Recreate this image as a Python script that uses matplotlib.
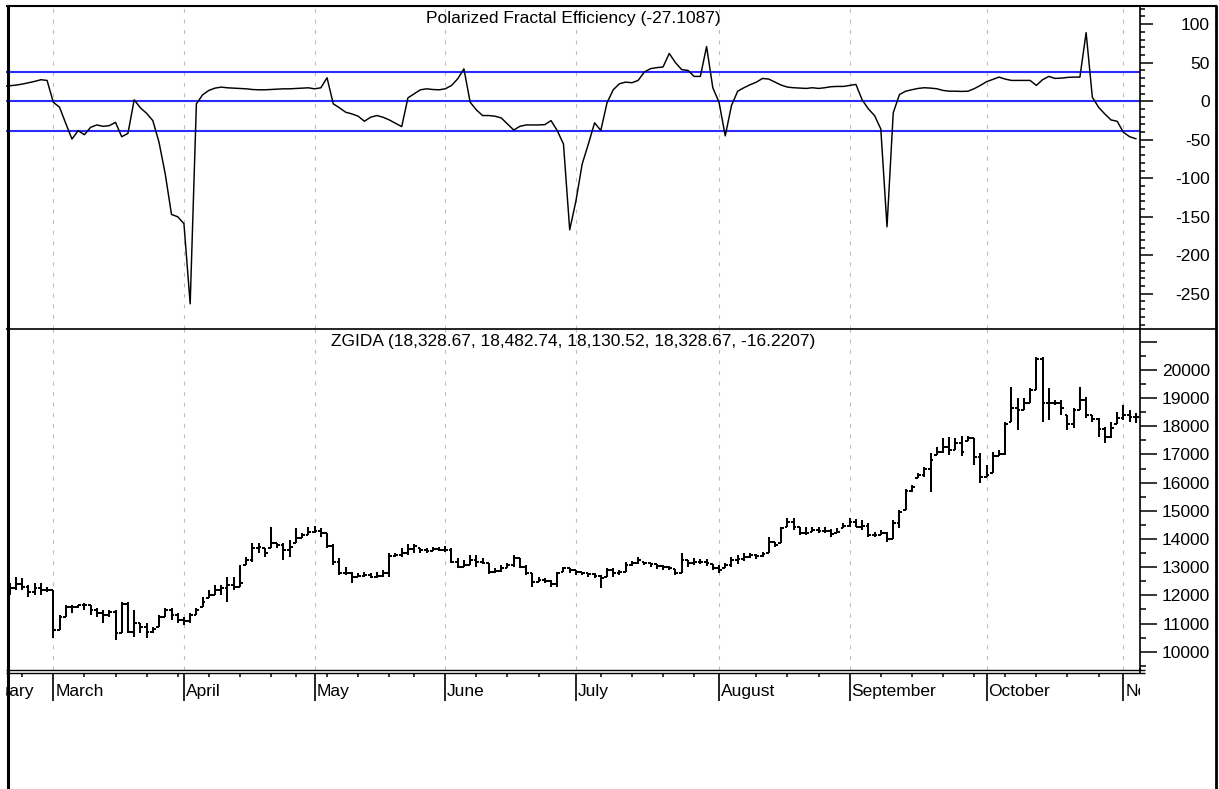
import matplotlib
matplotlib.use('Agg')
import matplotlib.pyplot as plt
import matplotlib.transforms as mtrans
from matplotlib.collections import LineCollection
from matplotlib.lines import Line2D
import numpy as np

plt.rcParams['font.family'] = ['Liberation Sans', 'DejaVu Sans']
plt.rcParams['axes.unicode_minus'] = False

# daily bars (index 0 = last days of February)
opens = [12300, 12250, 12250, 12400, 12300, 12130, 12250, 12200, 12190, 10770,
         11243, 11598, 11598, 11640, 11660, 11480, 11363, 11303, 11420, 10653,
         11700, 10700, 11008, 10888, 10700, 10888, 11243, 11480, 11300, 11125,
         11100, 11303, 11598, 11900, 12013, 12190, 12250, 12368, 12308, 13078,
         13255, 13670, 13670, 13670, 13848, 13780, 13600, 13848, 14026, 14143,
         14260, 14300, 14200, 13750, 13200, 12780, 12780, 12640, 12700, 12720,
         12640, 12700, 12780, 13400, 13433, 13500, 13650, 13670, 13600, 13586,
         13630, 13620, 13620, 13200, 13018, 13078, 13255, 13200, 13138, 12840,
         12850, 12960, 13078, 13314, 13018, 12782, 12485, 12560, 12500, 12400,
         12840, 12960, 12900, 12840, 12800, 12760, 12700, 12663, 12900, 12800,
         12840, 13078, 13160, 13195, 13160, 13100, 13042, 13000, 12925, 12800,
         13250, 13160, 13200, 13200, 13113, 12960, 12960, 13078, 13255, 13300,
         13373, 13433, 13380, 13492, 13905, 13847, 14438, 14600, 14438, 14230,
         14260, 14320, 14290, 14280, 14203, 14380, 14450, 14600, 14420, 14450,
         14150, 14150, 14200, 13990, 14560, 15030, 15700, 16155, 16270, 16500,
         16983, 17100, 17278, 17160, 17400, 17490, 17575, 16900, 16213, 16333,
         16950, 17000, 18165, 18640, 18580, 18817, 19290, 20400, 18817, 18817,
         18817, 18403, 18100, 18580, 18935, 18400, 18250, 17900, 17633, 18100,
         18286, 18400, 18329]
highs = [12485, 12430, 12663, 12605, 12368, 12430, 12430, 12308, 12190, 11303,
         11658, 11658, 11658, 11718, 11658, 11541, 11480, 11480, 11480, 11752,
         11752, 11480, 11030, 11030, 10888, 11303, 11541, 11541, 11363, 11243,
         11363, 11541, 11952, 12190, 12368, 12368, 12663, 12663, 13078, 13373,
         13848, 13848, 13670, 14438, 13848, 13848, 13965, 14380, 14203, 14415,
         14462, 14380, 14203, 13823, 13314, 13018, 12840, 12782, 12840, 12800,
         12840, 12900, 13493, 13493, 13670, 13823, 13823, 13670, 13670, 13705,
         13728, 13752, 13670, 13314, 13255, 13433, 13433, 13314, 13138, 12960,
         13078, 13160, 13433, 13314, 13078, 12782, 12663, 12605, 12545, 12840,
         13018, 12960, 12900, 12840, 12805, 12782, 12723, 12960, 12960, 12900,
         13195, 13230, 13350, 13195, 13160, 13113, 13078, 13042, 12925, 13492,
         13255, 13314, 13280, 13280, 13113, 13078, 13160, 13373, 13433, 13492,
         13492, 13468, 13550, 14083, 13905, 14438, 14735, 14735, 14438, 14438,
         14438, 14438, 14420, 14345, 14380, 14580, 14735, 14700, 14675, 14558,
         14260, 14320, 14260, 14675, 15030, 15765, 15918, 16333, 16568, 17043,
         17278, 17575, 17633, 17575, 17657, 17657, 17575, 17043, 16628, 17100,
         17160, 18165, 19408, 18995, 18995, 19350, 20473, 20473, 19350, 18935,
         18935, 18403, 18640, 19408, 19053, 18403, 18286, 17988, 18165, 18520,
         18758, 18580, 18483]
lows = [12130, 12013, 12190, 12190, 11953, 12013, 12013, 12130, 10475, 10770,
        11243, 11363, 11541, 11480, 11303, 11243, 11008, 11243, 10415, 10653,
        10653, 10533, 10653, 10475, 10653, 10888, 11243, 11125, 11008, 10948,
        11030, 11303, 11598, 11900, 12013, 12013, 11775, 12190, 12308, 13078,
        13195, 13493, 13373, 13670, 13670, 13255, 13373, 13848, 14026, 14143,
        14203, 14083, 13670, 13078, 12723, 12723, 12428, 12640, 12640, 12605,
        12605, 12663, 12663, 13373, 13373, 13433, 13493, 13515, 13493, 13586,
        13586, 13550, 13138, 12960, 13018, 13078, 13018, 13113, 12758, 12782,
        12840, 12960, 13018, 12960, 12723, 12308, 12485, 12428, 12308, 12308,
        12840, 12782, 12723, 12723, 12663, 12605, 12250, 12663, 12663, 12723,
        12840, 13042, 13113, 13078, 13018, 12925, 12900, 12900, 12723, 12782,
        13018, 13078, 13113, 13042, 12900, 12805, 12960, 13018, 13113, 13230,
        13314, 13280, 13373, 13492, 13728, 13847, 14438, 14320, 14143, 14143,
        14260, 14203, 14225, 14083, 14203, 14380, 14438, 14438, 14320, 14083,
        14083, 14143, 13905, 13990, 14380, 15030, 15680, 16155, 16213, 15680,
        16983, 17043, 16983, 17160, 16947, 17490, 16628, 15978, 16213, 16333,
        16947, 16983, 18165, 17870, 18580, 18817, 19290, 18165, 18225, 18758,
        18403, 17870, 17930, 18580, 18286, 18165, 17633, 17398, 17575, 18100,
        18225, 18165, 18131]
closes = [12250, 12250, 12400, 12300, 12130, 12250, 12200, 12190, 10770, 11243,
          11598, 11598, 11640, 11660, 11480, 11363, 11303, 11420, 10650, 11700,
          10700, 11008, 10888, 10700, 10800, 11243, 11480, 11300, 11125, 11100,
          11300, 11480, 11780, 12013, 12190, 12250, 12368, 12300, 12430, 13255,
          13670, 13700, 13500, 13850, 13780, 13600, 13700, 14026, 14143, 14260,
          14300, 14200, 13750, 13200, 12780, 12780, 12640, 12700, 12720, 12640,
          12700, 12780, 13400, 13433, 13500, 13650, 13750, 13600, 13580, 13630,
          13620, 13620, 13200, 13018, 13078, 13255, 13200, 13138, 12840, 12850,
          12960, 13078, 13314, 13018, 12800, 12485, 12560, 12500, 12400, 12782,
          12960, 12900, 12840, 12800, 12760, 12700, 12600, 12900, 12800, 12840,
          13078, 13160, 13255, 13160, 13100, 13042, 13000, 12980, 12800, 13250,
          13160, 13200, 13200, 13160, 12960, 12900, 13078, 13255, 13300, 13373,
          13433, 13380, 13470, 13905, 13800, 14380, 14600, 14440, 14230, 14200,
          14320, 14290, 14280, 14180, 14260, 14450, 14600, 14420, 14450, 14150,
          14150, 14200, 13990, 14560, 14950, 15700, 15850, 16270, 16500, 16805,
          17100, 17278, 17160, 17400, 17100, 17575, 16900, 16213, 16273, 16950,
          17000, 18100, 18640, 18580, 18817, 19290, 20400, 18817, 18817, 18817,
          18640, 18100, 18580, 18935, 18400, 18250, 17900, 17633, 17930, 18286,
          18400, 18345, 18329]

# Polarized Fractal Efficiency, one value per bar
pfe = [19.2, 20.1, 20.9, 22.2, 24.0, 25.7, 27.9, 27.0, -1.3, -7.8,
       -28.7, -49.1, -38.2, -43.5, -33.9, -30.8, -32.6, -31.7, -27.4, -46.1,
       -41.8, 1.8, -8.6, -15.7, -25.2, -53.5, -94.8, -147, -150, -159,
       -263, -3.4, 8.3, 14.0, 17.0, 18.3, 17.4, 17.0, 16.5, 16.1,
       15.2, 14.8, 14.8, 15.2, 15.6, 16.1, 16.1, 16.5, 17.0, 17.4,
       16.1, 17.4, 30.4, -3.4, -8.6, -14.3, -16.5, -19.5, -26.0, -20.8,
       -18.6, -20.8, -24.3, -28.7, -33.0, 4.4, 9.6, 14.8, 16.1, 15.2,
       14.8, 16.1, 20.4, 29.1, 42.0, -1.3, -11.3, -18.6, -18.6, -19.5,
       -21.7, -29.6, -37.4, -32.6, -30.8, -30.8, -30.8, -30.4, -25.2, -38.2,
       -55.6, -167, -129.5, -81.7, -55.6, -28.0, -38.0, -2.0, 14.9, 22.7,
       24.8, 24.0, 27.0, 37.9, 42.3, 43.6, 44.4, 62.0, 50.0, 41.0,
       40.0, 32.2, 32.2, 71.0, 17.5, -1.3, -45.0, -5.6, 13.0, 17.5,
       21.4, 24.8, 29.6, 28.7, 24.8, 20.9, 18.3, 17.5, 17.0, 16.6,
       17.5, 16.6, 17.5, 18.8, 19.2, 19.2, 20.5, 21.8, 1.8, -9.9,
       -18.7, -36.0, -163, -15.0, 8.7, 13.0, 14.9, 16.6, 17.5, 17.0,
       16.2, 14.0, 13.0, 13.0, 12.7, 13.0, 16.2, 20.5, 25.3, 28.3,
       31.3, 28.7, 27.0, 27.0, 27.0, 27.0, 20.5, 27.9, 32.2, 29.6,
       30.0, 30.9, 31.3, 31.3, 89.0, 5.2, -7.8, -16.5, -24.3, -26.1,
       -40.5, -46.1, -48.7]
pfe_bands = [38.5, 0, -38.5]

# first bar of each month (February starts off screen)
month_names = ['February', 'March', 'April', 'May', 'June', 'July', 'August',
               'September', 'October', 'November']
month_starts = [-6.5, 8, 29, 50, 71, 92, 115, 136, 158, 180]
week_ticks = [3, 13, 18, 23, 28, 33, 38, 43, 47, 52, 57, 62, 66, 76, 81, 86, 96,
              101, 106, 111, 121, 126, 131, 141, 146, 151, 156, 161, 166, 171, 176]

pfe_title = 'Polarized Fractal Efficiency (-27.1087)'
price_title = 'ZGIDA (18,328.67, 18,482.74, 18,130.52, 18,328.67, -16.2207)'

W, H = 1219, 789
fig = plt.figure(figsize=(W / 100, H / 100), dpi=100)


def fx(px):
    return px / W


def fy(py):
    return 1 - py / H


x_left, x_right = 6, 1140
ax1 = fig.add_axes([fx(x_left), fy(329), (x_right - x_left) / W, (329 - 6) / H])
ax2 = fig.add_axes([fx(x_left), fy(670), (x_right - x_left) / W, (670 - 329) / H])
ax3 = fig.add_axes([fx(x_left), fy(705), (x_right - x_left) / W, (705 - 672.5) / H])

bars = np.arange(len(closes))
xlim = (0.4, 182.66)
grid_kw = dict(color='#bdbdbd', lw=0.8, dashes=(3.5, 6), zorder=0)

# --- PFE panel
for m in month_starts[1:]:
    ax1.axvline(m, **grid_kw)
for b in pfe_bands:
    ax1.axhline(b, color='#2a2aff', lw=1.5, zorder=1)
ax1.plot(bars, pfe, color='black', lw=1.05, zorder=2)
ax1.set_xticks([])
ax1.set_xlim(xlim)
ax1.yaxis.tick_right()
ax1.set_yticks(np.arange(-250, 101, 50))
ax1.set_yticks(np.arange(-290, 121, 10), minor=True)
ax1.set_ylim(-295.7, 123.6)
ax1.tick_params(axis='y', which='major', length=9.1, width=1.1, pad=41.3,
                labelsize=12.5)
ax1.tick_params(axis='y', which='minor', length=3.8, width=1.1)

# --- price panel (OHLC bars)
segs = []
for i in bars:
    segs.append([(i, lows[i]), (i, highs[i])])
    segs.append([(i - 0.45, opens[i]), (i, opens[i])])
    segs.append([(i, closes[i]), (i + 0.45, closes[i])])
for m in month_starts[1:]:
    ax2.axvline(m, **grid_kw)
ax2.add_collection(LineCollection(segs, colors='black', linewidths=1.45,
                                  capstyle='butt', zorder=2))
ax2.set_xticks([])
ax2.set_xlim(xlim)
ax2.yaxis.tick_right()
price_ticks = np.arange(10000, 21001, 1000)
ax2.set_yticks(price_ticks)
ax2.set_yticklabels([str(v) if v <= 20000 else '' for v in price_ticks])
ax2.set_yticks(np.arange(9500, 21500, 500), minor=True)
ax2.set_ylim(9350, 21455)
ax2.tick_params(axis='y', which='major', length=12, width=1.1, pad=38.4,
                labelsize=12.5)
ax2.tick_params(axis='y', which='minor', length=4.3, width=1.1)

for ax in (ax1, ax2):
    for s in ('left', 'top', 'bottom'):
        ax.spines[s].set_visible(False)
    ax.spines['right'].set_linewidth(1.2)
    for lbl in ax.get_yticklabels():
        lbl.set_horizontalalignment('right')

# --- date strip
ax3.set_frame_on(False)
ax3.set_yticks([])
ax3.xaxis.set_ticks_position('top')
ax3.set_xticks(month_starts)
ax3.set_xticks(week_ticks, minor=True)
ax3.set_xlim(xlim)
ax3.set_ylim(0, 1)
ax3.tick_params(axis='x', which='major', direction='in', length=20.2, width=1.2,
                labeltop=False, labelbottom=False)
ax3.tick_params(axis='x', which='minor', direction='in', length=3.2, width=1.1,
                labeltop=False, labelbottom=False)
strip_tr = mtrans.blended_transform_factory(ax3.transData, fig.transFigure)
for m, name in zip(month_starts, month_names):
    ax3.text(m + 0.3, fy(684), name, transform=strip_tr, ha='left', va='top',
             fontsize=12.5, clip_on=True)

# --- titles
fig.text(fx(573), fy(11), pfe_title, ha='center', va='top', fontsize=12.5)
fig.text(fx(573), fy(334), price_title, ha='center', va='top', fontsize=12.5)

# --- frame and separators
lines = [
    ([7.5, 7.5], [5, 789], 2.2),
    ([1216, 1216], [5, 789], 2.0),
    ([6, 1217], [5.5, 5.5], 1.5),
    ([6, 1217], [329, 329], 1.2),
    ([6, 1145], [670, 670], 1.0),
    ([6, 1145], [672.5, 672.5], 1.0),
    ([1140, 1140], [668, 673], 1.2),
]
for xs, ys, lw in lines:
    fig.add_artist(Line2D([fx(v) for v in xs], [fy(v) for v in ys],
                          color='black', lw=lw, solid_capstyle='butt'))

fig.savefig('out.png', dpi=100)
